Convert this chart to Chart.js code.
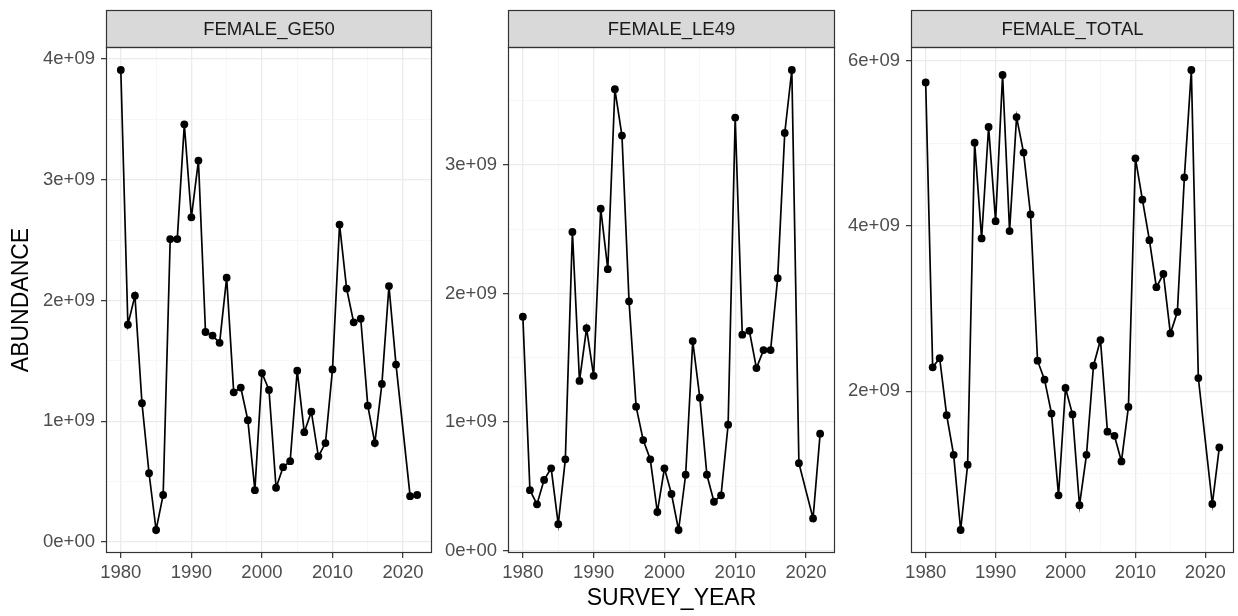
<!DOCTYPE html>
<html>
<head>
<meta charset="utf-8">
<script src="https://cdn.jsdelivr.net/npm/chart.js@4.4.1/dist/chart.umd.min.js"></script>
<style>
  html, body { margin: 0; padding: 0; background: #fff; }
  #wrap { position: relative; width: 1238px; height: 616px; overflow: hidden; }
  #wrap canvas { position: absolute; left: 0; top: 0; }
</style>
</head>
<body>
<div id="wrap">
  <canvas id="chart-ge50" width="1238" height="616"></canvas>
  <canvas id="chart-le49" width="1238" height="616"></canvas>
  <canvas id="chart-total" width="1238" height="616"></canvas>
</div>
<script>
// survey years (no survey in 2020)
const years = [1980, 1981, 1982, 1983, 1984, 1985, 1986, 1987, 1988, 1989,
               1990, 1991, 1992, 1993, 1994, 1995, 1996, 1997, 1998, 1999,
               2000, 2001, 2002, 2003, 2004, 2005, 2006, 2007, 2008, 2009,
               2010, 2011, 2012, 2013, 2014, 2015, 2016, 2017, 2018, 2019,
               2021, 2022];

const femaleGE50 = [3.91e9, 1.80e9, 2.04e9, 1.15e9, 0.57e9, 0.10e9, 0.39e9, 2.51e9, 2.51e9, 3.46e9,
                    2.69e9, 3.16e9, 1.74e9, 1.71e9, 1.65e9, 2.19e9, 1.24e9, 1.28e9, 1.01e9, 0.43e9,
                    1.40e9, 1.26e9, 0.45e9, 0.62e9, 0.67e9, 1.42e9, 0.91e9, 1.08e9, 0.71e9, 0.82e9,
                    1.43e9, 2.63e9, 2.10e9, 1.82e9, 1.85e9, 1.13e9, 0.82e9, 1.31e9, 2.12e9, 1.47e9,
                    0.38e9, 0.39e9];

const femaleLE49 = [1.82e9, 0.47e9, 0.36e9, 0.55e9, 0.64e9, 0.205e9, 0.71e9, 2.48e9, 1.32e9, 1.73e9,
                    1.36e9, 2.66e9, 2.19e9, 3.59e9, 3.23e9, 1.94e9, 1.12e9, 0.86e9, 0.71e9, 0.30e9,
                    0.64e9, 0.44e9, 0.16e9, 0.59e9, 1.63e9, 1.19e9, 0.59e9, 0.38e9, 0.43e9, 0.98e9,
                    3.37e9, 1.68e9, 1.71e9, 1.42e9, 1.56e9, 1.56e9, 2.12e9, 3.25e9, 3.74e9, 0.68e9,
                    0.25e9, 0.91e9];

const femaleTotal = [5.74e9, 2.29e9, 2.40e9, 1.71e9, 1.23e9, 0.32e9, 1.11e9, 5.01e9, 3.85e9, 5.20e9,
                     4.06e9, 5.83e9, 3.94e9, 5.32e9, 4.89e9, 4.14e9, 2.37e9, 2.14e9, 1.73e9, 0.74e9,
                     2.04e9, 1.72e9, 0.62e9, 1.23e9, 2.31e9, 2.62e9, 1.51e9, 1.46e9, 1.15e9, 1.81e9,
                     4.82e9, 4.32e9, 3.83e9, 3.26e9, 3.42e9, 2.70e9, 2.96e9, 4.59e9, 5.89e9, 2.16e9,
                     0.635e9, 1.32e9];

// tick labels
const xTicks = [1980, 1990, 2000, 2010, 2020];
const yTicksGE50 = [0, 1e9, 2e9, 3e9, 4e9];
const yTicksLE49 = [0, 1e9, 2e9, 3e9];
const yTicksTotal = [2e9, 4e9, 6e9];

const FONT = '"Liberation Sans", Arial, Helvetica, sans-serif';

function fmtSci(v) {
  if (v === 0) return '0e+00';
  const e = Math.floor(Math.log10(Math.abs(v)) + 1e-9);
  const m = Math.round(v / Math.pow(10, e));
  return m + 'e' + (e < 0 ? '-' : '+') + String(Math.abs(e)).padStart(2, '0');
}

// ggplot-like 5% expansion
function expand(lo, hi) {
  const d = (hi - lo) * 0.05;
  return [lo - d, hi + d];
}

// majors plus half-step minors inside the range
function withMinors(majors, lo, hi) {
  const step = majors[1] - majors[0];
  const out = [];
  for (let v = majors[0] - step; v <= majors[majors.length - 1] + step + 1e-6; v += step / 2) {
    if (v >= lo && v <= hi) out.push(v);
  }
  return out;
}

const isMajor = (majors, v) => majors.some(m => Math.abs(m - v) < Math.abs(majors[1] - majors[0]) * 1e-6);

const stripPlugin = {
  id: 'strip',
  afterDraw(chart, args, opts) {
    const { ctx, chartArea: a } = chart;
    const h = 37;
    ctx.save();
    ctx.fillStyle = '#d9d9d9';
    ctx.fillRect(a.left, a.top - h, a.right - a.left, h);
    ctx.strokeStyle = '#333333';
    ctx.lineWidth = 1.2;
    ctx.strokeRect(a.left + 0.5, a.top - h + 0.5, a.right - a.left - 1, h);
    ctx.strokeRect(a.left + 0.5, a.top + 0.5, a.right - a.left - 1, a.bottom - a.top - 1);
    ctx.fillStyle = '#1a1a1a';
    ctx.font = '18.5px ' + FONT;
    ctx.textAlign = 'center';
    ctx.textBaseline = 'middle';
    ctx.fillText(opts.text, (a.left + a.right) / 2, a.top - h / 2 + 1);
    ctx.restore();
  }
};

function mkChart(id, cfg) {
  const xr = expand(years[0], years[years.length - 1]);
  const yr = expand(Math.min(...cfg.values), Math.max(...cfg.values));
  const xAll = withMinors(xTicks, xr[0], xr[1]);
  const yAll = withMinors(cfg.yTicks, yr[0], yr[1]);

  return new Chart(document.getElementById(id), {
    type: 'line',
    data: {
      datasets: [{
        data: years.map((x, i) => ({ x, y: cfg.values[i] })),
        borderColor: '#000',
        borderWidth: 1.7,
        pointRadius: 3.9,
        pointBackgroundColor: '#000',
        pointBorderWidth: 0,
        tension: 0
      }]
    },
    options: {
      responsive: false,
      animation: false,
      events: [],
      layout: { padding: { left: cfg.left - cfg.yAxisW, right: 1238 - cfg.right, top: 47, bottom: 0 } },
      plugins: { legend: { display: false }, tooltip: { enabled: false }, strip: { text: cfg.strip } },
      scales: {
        x: {
          type: 'linear',
          min: xr[0],
          max: xr[1],
          afterBuildTicks: s => { s.ticks = xAll.map(v => ({ value: v })); },
          afterFit: s => { s.height = 63; },
          border: { display: false },
          grid: {
            color: c => isMajor(xTicks, c.tick.value) ? '#ebebeb' : '#f4f4f4',
            lineWidth: c => isMajor(xTicks, c.tick.value) ? 1.3 : 0.7,
            tickColor: c => isMajor(xTicks, c.tick.value) ? '#333333' : 'rgba(0,0,0,0)',
            tickLength: 5,
            tickWidth: 1.2
          },
          ticks: {
            padding: 4,
            maxRotation: 0,
            autoSkip: false,
            color: '#4d4d4d',
            font: { family: FONT, size: 18.5 },
            callback: v => isMajor(xTicks, v) ? String(v) : ''
          },
          title: {
            display: cfg.xTitle,
            text: 'SURVEY_YEAR',
            color: '#000',
            font: { family: FONT, size: 23 },
            padding: { top: 0, bottom: 4 }
          }
        },
        y: {
          min: yr[0],
          max: yr[1],
          afterBuildTicks: s => { s.ticks = yAll.map(v => ({ value: v })); },
          afterFit: s => { s.width = cfg.yAxisW; },
          border: { display: false },
          grid: {
            color: c => isMajor(cfg.yTicks, c.tick.value) ? '#ebebeb' : '#f4f4f4',
            lineWidth: c => isMajor(cfg.yTicks, c.tick.value) ? 1.3 : 0.7,
            tickColor: c => isMajor(cfg.yTicks, c.tick.value) ? '#333333' : 'rgba(0,0,0,0)',
            tickLength: 5,
            tickWidth: 1.2
          },
          ticks: {
            padding: 6,
            autoSkip: false,
            color: '#4d4d4d',
            font: { family: FONT, size: 18.5 },
            callback: v => isMajor(cfg.yTicks, v) ? fmtSci(v) : ''
          },
          title: {
            display: cfg.yTitle,
            text: 'ABUNDANCE',
            color: '#000',
            font: { family: FONT, size: 23 },
            padding: { top: 8, bottom: 0 }
          }
        }
      }
    },
    plugins: [stripPlugin]
  });
}

mkChart('chart-ge50', { values: femaleGE50, yTicks: yTicksGE50, strip: 'FEMALE_GE50',
  left: 106, right: 432, yAxisW: 106, yTitle: true, xTitle: false });
mkChart('chart-le49', { values: femaleLE49, yTicks: yTicksLE49, strip: 'FEMALE_LE49',
  left: 508, right: 835, yAxisW: 80, yTitle: false, xTitle: true });
mkChart('chart-total', { values: femaleTotal, yTicks: yTicksTotal, strip: 'FEMALE_TOTAL',
  left: 911, right: 1237, yAxisW: 80, yTitle: false, xTitle: false });
</script>
</body>
</html>
